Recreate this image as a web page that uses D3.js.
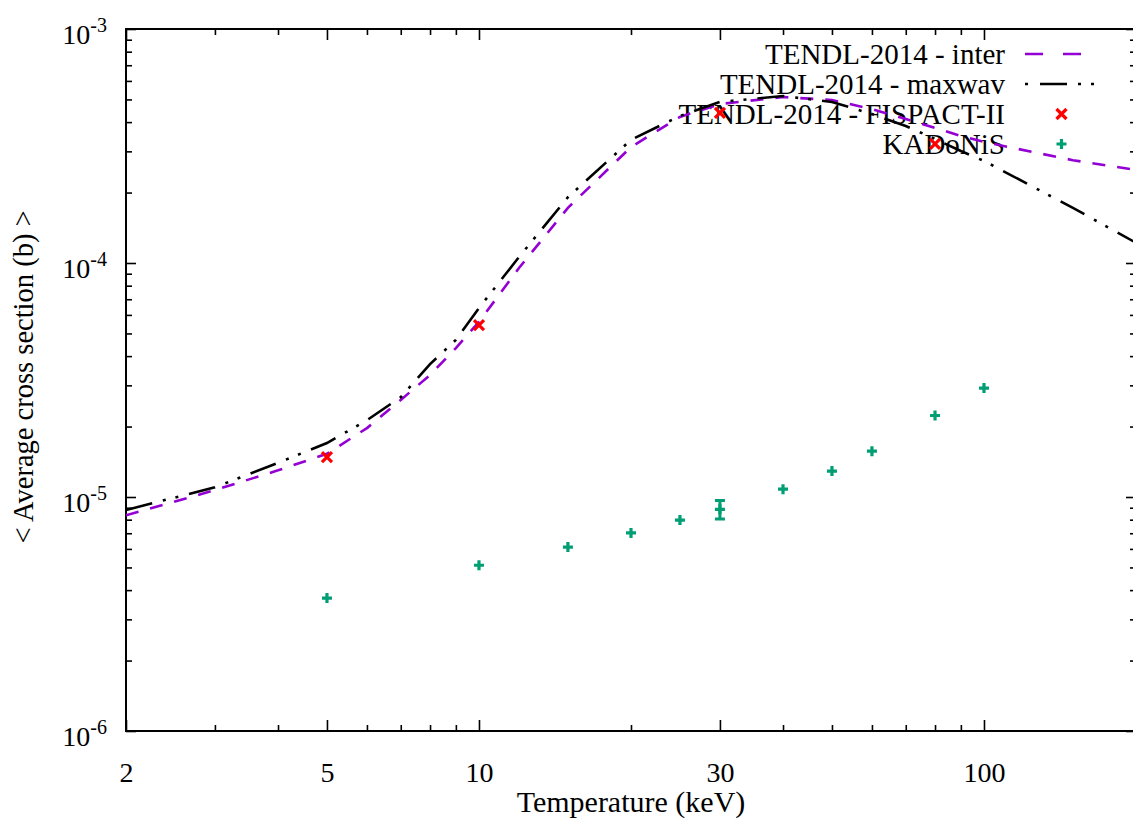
<!DOCTYPE html>
<html>
<head>
<meta charset="utf-8">
<script src="https://cdn.jsdelivr.net/npm/d3@7"></script>
<style>
  html, body { margin: 0; padding: 0; background: #fff; }
  svg { display: block; }
</style>
</head>
<body>
<svg id="chart" width="1133" height="825"></svg>
<script>
// ---------------- data ----------------
const interT   = [2, 3, 4, 5, 6, 7, 8, 9, 10, 12, 15, 20, 25, 30, 40, 50, 60, 70, 80, 90, 100, 150, 200];
const interXS  = [8.35e-6, 1.07e-5, 1.30e-5, 1.53e-5, 1.97e-5, 2.60e-5, 3.32e-5, 4.33e-5, 5.60e-5, 9.52e-5, 1.72e-4,
                  3.13e-4, 4.21e-4, 4.78e-4, 5.12e-4, 4.97e-4, 4.55e-4, 4.12e-4, 3.78e-4, 3.49e-4, 3.29e-4, 2.75e-4, 2.50e-4];
const maxwavT  = [2, 3, 4, 5, 6, 7, 8, 9, 10, 12, 15, 20, 25, 30, 40, 50, 60, 70, 80, 90, 100, 150, 200];
const maxwavXS = [8.80e-6, 1.10e-5, 1.40e-5, 1.70e-5, 2.13e-5, 2.67e-5, 3.70e-5, 4.69e-5, 6.42e-5, 1.06e-4, 1.91e-4,
                  3.36e-4, 4.25e-4, 4.88e-4, 5.17e-4, 4.88e-4, 4.33e-4, 3.85e-4, 3.39e-4, 3.01e-4, 2.73e-4, 1.72e-4, 1.22e-4];
const fispactT  = [5, 10, 30, 80];
const fispactXS = [1.48e-5, 5.43e-5, 4.38e-4, 3.23e-4];
const kadT   = [5, 10, 15, 20, 25, 30, 40, 50, 60, 80, 100];
const kadXS  = [3.70e-6, 5.11e-6, 6.11e-6, 7.02e-6, 7.97e-6, 8.86e-6, 1.08e-5, 1.29e-5, 1.57e-5, 2.23e-5, 2.92e-5];
const kadErr = [0, 0, 0, 0, 0, 0.8e-6, 0, 0, 0, 0, 0];
const xMajorTicks = [2, 5, 10, 30, 100];
const xMinorTicks = [3, 4, 6, 7, 8, 9, 20, 40, 50, 60, 70, 80, 90];
const yMajorTicks = [1e-3, 1e-4, 1e-5, 1e-6];
const yExponents  = ["-3", "-4", "-5", "-6"];
const seriesNames = ["TENDL-2014 - inter", "TENDL-2014 - maxwav", "TENDL-2014 - FISPACT-II", "KADoNiS"];

// ---------------- font detection (pick an installed serif face) ----------------
function pickSerif() {
  const cands = ["Liberation Serif", "DejaVu Serif", "Noto Serif", "Tinos", "Times New Roman", "Times", "FreeSerif", "Nimbus Roman", "Nimbus Roman No9 L"];
  const ctx = document.createElement("canvas").getContext("2d");
  const s = "TENDL-2014 maxwav KADoNiS Average (keV) 0123456789";
  const widthOf = f => { ctx.font = "40px " + f; return ctx.measureText(s).width; };
  const base1 = widthOf("monospace"), base2 = widthOf("sans-serif");
  for (const c of cands) {
    const w1 = widthOf(`"${c}", monospace`), w2 = widthOf(`"${c}", sans-serif`);
    if (w1 !== base1 || w2 !== base2) return `"${c}", serif`;
  }
  return "serif";
}
const FONT = pickSerif();

// ---------------- layout ----------------
const L = 126, T = 29, R = 1136, B = 731;
const svg = d3.select("#chart").attr("font-family", FONT);
const x = d3.scaleLog().domain([2, 200]).range([L, R]);
const y = d3.scaleLog().domain([1e-6, 1e-3]).range([B, T]);

const yMinor = [];
[1e-6, 1e-5, 1e-4].forEach(d => { for (let k = 2; k <= 9; k++) yMinor.push(d * k); });

const COL_INTER = "#9400d3", COL_MAX = "#000000", COL_FIS = "#ff0000", COL_KAD = "#009e73";

svg.append("clipPath").attr("id", "clip").append("rect")
  .attr("x", L).attr("y", T).attr("width", R - L).attr("height", B - T);

// ---------------- axes ----------------
function styleAxis(g) {
  g.attr("font-family", FONT);
  g.select(".domain").remove();
  g.selectAll("line").attr("stroke", "#000").attr("stroke-width", 1.6);
}
// bottom
svg.append("g").attr("transform", `translate(0,${B})`)
  .call(d3.axisBottom(x).tickValues(xMajorTicks).tickSize(-11).tickPadding(31).tickFormat(d => String(d)))
  .call(styleAxis)
  .call(g => g.selectAll("text").attr("font-size", 28).attr("dy", "0.71em").attr("fill", "#000"));
svg.append("g").attr("transform", `translate(0,${B})`)
  .call(d3.axisBottom(x).tickValues(xMinorTicks).tickSize(-6).tickFormat(""))
  .call(styleAxis);
// top
svg.append("g").attr("transform", `translate(0,${T})`)
  .call(d3.axisTop(x).tickValues(xMajorTicks).tickSize(-11).tickFormat(""))
  .call(styleAxis);
svg.append("g").attr("transform", `translate(0,${T})`)
  .call(d3.axisTop(x).tickValues(xMinorTicks).tickSize(-6).tickFormat(""))
  .call(styleAxis);
// left
const yAxisG = svg.append("g").attr("transform", `translate(${L},0)`)
  .call(d3.axisLeft(y).tickValues(yMajorTicks).tickSize(-10).tickPadding(19).tickFormat(""))
  .call(styleAxis);
yAxisG.selectAll(".tick text").each(function(d, i) {
  const t = d3.select(this);
  t.attr("font-size", 28).attr("dy", null).attr("y", 14).attr("fill", "#000");
  t.append("tspan").text("10");
  t.append("tspan").attr("font-size", 20).attr("dy", -12).text(yExponents[i]);
});
svg.append("g").attr("transform", `translate(${L},0)`)
  .call(d3.axisLeft(y).tickValues(yMinor).tickSize(-6).tickFormat(""))
  .call(styleAxis);
// right
svg.append("g").attr("transform", `translate(${R},0)`)
  .call(d3.axisRight(y).tickValues(yMajorTicks).tickSize(-10).tickFormat(""))
  .call(styleAxis);
svg.append("g").attr("transform", `translate(${R},0)`)
  .call(d3.axisRight(y).tickValues(yMinor).tickSize(-6).tickFormat(""))
  .call(styleAxis);

// frame
svg.append("rect").attr("x", L).attr("y", T).attr("width", R - L).attr("height", B - T)
  .attr("fill", "none").attr("stroke", "#000").attr("stroke-width", 2);

// axis titles
svg.append("text").attr("x", 631).attr("y", 812).attr("text-anchor", "middle")
  .attr("font-size", 30).text("Temperature (keV)");
svg.append("text").attr("transform", "translate(33,377) rotate(-90)").attr("text-anchor", "middle")
  .attr("font-size", 28.5).text("< Average cross section (b) >");

// ---------------- legend ----------------
const legX = 1005, legS0 = 1025, legS1 = 1098, legY0 = 54, legDY = 30;
const leg = svg.append("g");
seriesNames.forEach((n, i) => {
  leg.append("text").attr("x", legX).attr("y", legY0 + i * legDY + 10).attr("text-anchor", "end")
    .attr("font-size", 29).text(n);
});

// ---------------- series ----------------
const plot = svg.append("g").attr("clip-path", "url(#clip)");
const line = d3.line().x(d => x(d[0])).y(d => y(d[1]));
const DASH_INTER = "13,12", DASH_MAX = "27,11,3,10,3,11";

plot.append("path").datum(interT.map((t, i) => [t, interXS[i]]))
  .attr("d", line).attr("fill", "none").attr("stroke", COL_INTER).attr("stroke-width", 2.6)
  .attr("stroke-dasharray", DASH_INTER);
plot.append("path").datum(maxwavT.map((t, i) => [t, maxwavXS[i]]))
  .attr("d", line).attr("fill", "none").attr("stroke", COL_MAX).attr("stroke-width", 2.6)
  .attr("stroke-dasharray", DASH_MAX);

function cross(g, cx, cy, s, col) {
  g.append("path").attr("d", `M${cx - s},${cy - s}L${cx + s},${cy + s}M${cx - s},${cy + s}L${cx + s},${cy - s}`)
    .attr("stroke", col).attr("stroke-width", 3.2).attr("fill", "none");
}
function plus(g, cx, cy, s, col) {
  g.append("path").attr("d", `M${cx - s},${cy}L${cx + s},${cy}M${cx},${cy - s}L${cx},${cy + s}`)
    .attr("stroke", col).attr("stroke-width", 3.2).attr("fill", "none");
}
fispactT.forEach((t, i) => cross(plot, x(t), y(fispactXS[i]), 5, COL_FIS));
kadT.forEach((t, i) => {
  const cx = x(t), cy = y(kadXS[i]);
  if (kadErr[i] > 0) {
    const y0 = y(kadXS[i] - kadErr[i]), y1 = y(kadXS[i] + kadErr[i]);
    plot.append("path").attr("d", `M${cx},${y0}L${cx},${y1}M${cx - 5},${y0}L${cx + 5},${y0}M${cx - 5},${y1}L${cx + 5},${y1}`)
      .attr("stroke", COL_KAD).attr("stroke-width", 3).attr("fill", "none");
  }
  plus(plot, cx, cy, 5, COL_KAD);
});

// legend samples
leg.append("line").attr("x1", legS0).attr("x2", legS1).attr("y1", legY0).attr("y2", legY0)
  .attr("stroke", COL_INTER).attr("stroke-width", 2.6).attr("stroke-dasharray", "18,20");
leg.append("line").attr("x1", legS0).attr("x2", legS1).attr("y1", legY0 + legDY).attr("y2", legY0 + legDY)
  .attr("stroke", COL_MAX).attr("stroke-width", 2.6).attr("stroke-dasharray", "3,12,27,11,3,10,3,11");
cross(leg, (legS0 + legS1) / 2, legY0 + 2 * legDY, 5, COL_FIS);
plus(leg, (legS0 + legS1) / 2, legY0 + 3 * legDY, 5, COL_KAD);
</script>
</body>
</html>
